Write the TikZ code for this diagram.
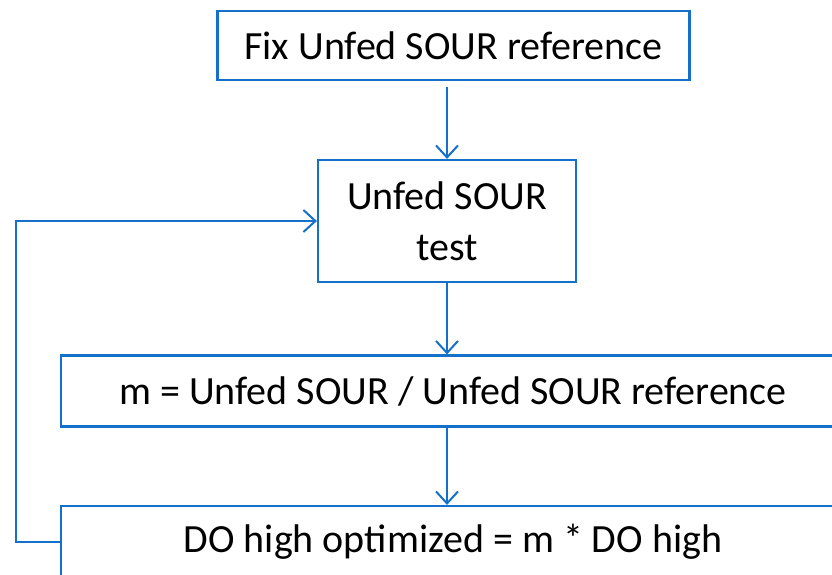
\documentclass[tikz,border=0pt]{standalone}
\usepackage{fontspec}
\setmainfont{Carlito}
\usetikzlibrary{arrows.meta}
\definecolor{flowblue}{RGB}{20,112,200}
\begin{document}
\begin{tikzpicture}[x=1pt,y=-1pt,
  stepbox/.style={draw=flowblue, line width=2.2pt, fill=white, inner sep=0pt,
    align=center, font=\fontsize{40}{51}\selectfont},
  flow/.style={draw=flowblue, line width=2pt,
    -{Straight Barb[length=12pt,width=22pt,line width=2pt]}}]
  \useasboundingbox (0,0) rectangle (832,574);
  \clip (0,0) rectangle (832,574);

  \node[stepbox, minimum width=472pt, minimum height=69pt] (ref) at (453.5,45.5)
    {Fix Unfed SOUR reference};
  \node[stepbox, minimum width=258pt, minimum height=122pt] (test) at (447,221)
    {Unfed SOUR\\test};
  \node[stepbox, minimum width=784pt, minimum height=71pt] (ratio) at (453,391)
    {m = Unfed SOUR / Unfed SOUR reference};
  \node[stepbox, minimum width=784pt, minimum height=71pt] (opt) at (453,541.5)
    {DO high optimized = m * DO high};

  \coordinate (loopA) at (16,541.5);
  \coordinate (loopB) at (16,221);

  \draw[flow, shorten <=6pt] (ref.south -| test.north) -- (test.north);
  \draw[flow] (test.south) -- (test.south |- ratio.north);
  \draw[flow] (test.south |- ratio.south) -- (test.south |- opt.north);
  \draw[flow] (opt.west) -- (loopA) -- (loopB) -- (test.west);
\end{tikzpicture}
\end{document}
